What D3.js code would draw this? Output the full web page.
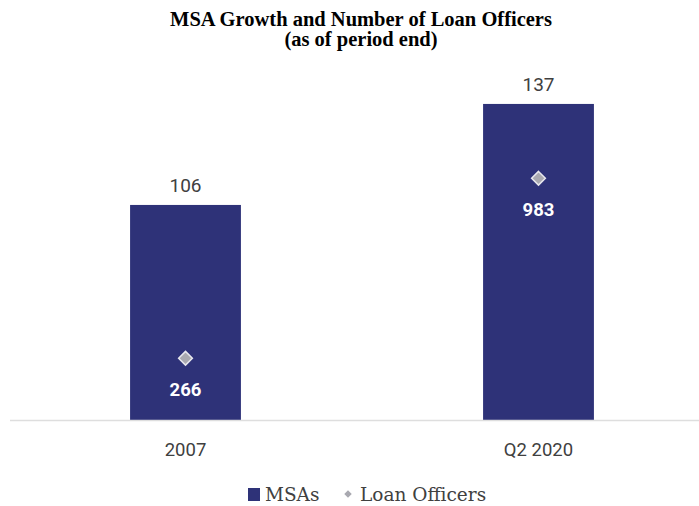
<!DOCTYPE html>
<html><head><meta charset="utf-8">
<script src="https://cdn.jsdelivr.net/npm/d3@7"></script>
<style>body{margin:0;background:#fff}</style>
</head><body>
<svg id="chart" width="699" height="506"></svg>
<script>
const categories = ["2007", "Q2 2020"];
const msaValues = [106, 137];
const loanOfficerValues = [266, 983];
const titleLines = ["MSA Growth and Number of Loan Officers", "(as of period end)"];
const legendLabels = ["MSAs", "Loan Officers"];

const svg = d3.select("#chart");
const barColor = "#2e3278";
const diamondColor = "#a9a9b0";
const baseY = 420;

const x = d3.scaleBand().domain(categories).range([9, 715]).paddingInner(0.686).paddingOuter(0.343);
const y = d3.scaleLinear().domain([40, 160]).range([baseY, 29]);
const y2 = d3.scaleLinear().domain([20, 1000]).range([baseY, 174]);

svg.append("g").selectAll("text").data(titleLines).join("text")
  .attr("x", 361).attr("y", (d, i) => 26 + i * 20)
  .attr("text-anchor", "middle")
  .style("font-family", "'Liberation Serif', 'Times New Roman', serif")
  .style("font-weight", "bold").style("font-size", "20.5px").attr("fill", "#000")
  .text(d => d);

const data = categories.map((c, i) => ({c, msa: msaValues[i], lo: loanOfficerValues[i]}));

svg.append("g").selectAll("rect").data(data).join("rect")
  .attr("x", d => x(d.c)).attr("width", x.bandwidth())
  .attr("y", d => y(d.msa)).attr("height", d => baseY - y(d.msa))
  .attr("fill", barColor);

svg.append("line").attr("x1", 10).attr("x2", 699).attr("y1", baseY + 0.5).attr("y2", baseY + 0.5)
  .attr("stroke", "#dedede").attr("stroke-width", 1.5);

svg.append("g").selectAll("text").data(data).join("text")
  .attr("x", d => x(d.c) + x.bandwidth() / 2).attr("y", d => y(d.msa) - 13)
  .attr("text-anchor", "middle")
  .style("font-family", "Roboto, 'Liberation Sans', sans-serif").style("font-size", "19px")
  .attr("fill", "#404040").text(d => d.msa);

const diamond = d3.symbol().type(d3.symbolDiamond2).size(120);
svg.append("g").selectAll("path").data(data).join("path")
  .attr("d", diamond)
  .attr("transform", d => `translate(${x(d.c) + x.bandwidth() / 2},${y2(d.lo)})`)
  .attr("fill", diamondColor).attr("stroke", "#e8e8ee").attr("stroke-width", 1.5);

svg.append("g").selectAll("text").data(data).join("text")
  .attr("x", d => x(d.c) + x.bandwidth() / 2).attr("y", d => y2(d.lo) + 38)
  .attr("text-anchor", "middle")
  .style("font-family", "Roboto, 'Liberation Sans', sans-serif").style("font-size", "18.5px")
  .style("font-weight", "bold")
  .attr("fill", "#ffffff").text(d => d.lo);

svg.append("g").selectAll("text").data(categories).join("text")
  .attr("x", d => x(d) + x.bandwidth() / 2).attr("y", 456)
  .attr("text-anchor", "middle")
  .style("font-family", "Roboto, 'Liberation Sans', sans-serif").style("font-size", "18.5px")
  .attr("fill", "#404040").text(d => d);

const lg = svg.append("g");
lg.append("rect").attr("x", 248).attr("y", 488).attr("width", 12).attr("height", 13).attr("fill", barColor);
lg.append("text").attr("x", 265).attr("y", 501)
  .style("font-family", "'DejaVu Serif', serif").style("font-size", "18.5px").attr("fill", "#404040")
  .text(legendLabels[0]);
lg.append("path").attr("d", d3.symbol().type(d3.symbolDiamond2).size(36))
  .attr("transform", "translate(348,494)").attr("fill", diamondColor);
lg.append("text").attr("x", 360).attr("y", 501)
  .style("font-family", "'DejaVu Serif', serif").style("font-size", "18.5px").attr("fill", "#404040")
  .text(legendLabels[1]);
</script>
</body></html>
